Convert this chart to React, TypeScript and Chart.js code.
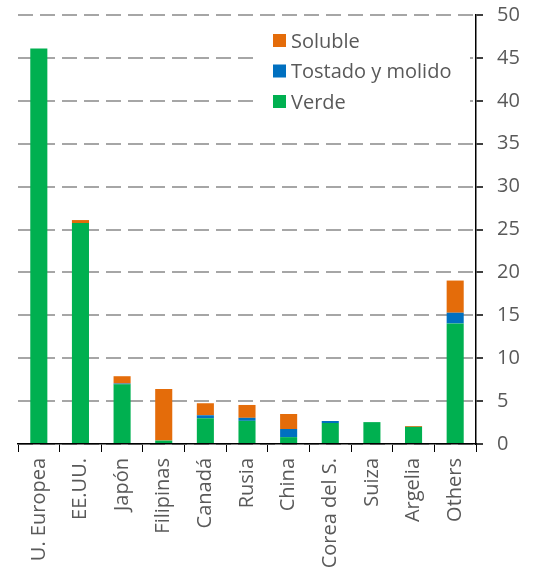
import React, { useEffect, useRef } from "react";
import { Chart, registerables } from "chart.js";

Chart.register(...registerables);

const categories = ["U. Europea", "EE.UU.", "Japón", "Filipinas", "Canadá", "Rusia", "China", "Corea del S.", "Suiza", "Argelia", "Others"];
const verde = [46.1, 25.75, 6.95, 0.4, 3.0, 2.7, 0.8, 2.45, 2.55, 2.0, 14.05];
const tostado = [0, 0, 0.1, 0, 0.35, 0.35, 0.95, 0.23, 0, 0, 1.25];
const soluble = [0, 0.35, 0.85, 6.0, 1.4, 1.5, 1.75, 0, 0, 0.1, 3.75];
const yTicks = [0, 5, 10, 15, 20, 25, 30, 35, 40, 45, 50];

const FONT = "'Open Sans', sans-serif";
const TEXT = "#595959";

const legendPlugin = {
  id: "insideLegend",
  afterDraw(chart: any) {
    const { ctx, chartArea } = chart;
    const x0 = chartArea.left + 240;
    const y0 = chartArea.top + 10;
    ctx.save();
    ctx.fillStyle = "#ffffff";
    ctx.fillRect(x0, y0, 212, 92);
    const items = [...chart.data.datasets].reverse();
    ctx.font = `20px ${FONT}`;
    ctx.textBaseline = "middle";
    ctx.textAlign = "left";
    items.forEach((ds: any, i: number) => {
      const cy = y0 + 16 + i * 30.5;
      ctx.fillStyle = ds.backgroundColor;
      ctx.fillRect(x0 + 15, cy - 7, 13, 13);
      ctx.fillStyle = TEXT;
      ctx.fillText(ds.label, x0 + 33, cy + 1);
    });
    ctx.restore();
  },
};

const zeroPad = (s: any) => {
  s.paddingTop = 0;
  s.paddingBottom = 0;
  s.paddingLeft = 0;
  s.paddingRight = 0;
};

export default function App() {
  const ref = useRef<HTMLCanvasElement>(null);
  useEffect(() => {
    document.body.style.margin = "0";
    const chart = new Chart(ref.current as HTMLCanvasElement, {
      type: "bar",
      data: {
        labels: categories,
        datasets: [
          { label: "Verde", data: verde, backgroundColor: "#00B050" },
          { label: "Tostado y molido", data: tostado, backgroundColor: "#0070C0" },
          { label: "Soluble", data: soluble, backgroundColor: "#E46C0A" },
        ],
      },
      options: {
        responsive: false,
        animation: false,
        layout: { autoPadding: false, padding: { left: 18, top: 15, right: 0, bottom: 0 } },
        datasets: { bar: { categoryPercentage: 1, barPercentage: 0.41 } },
        plugins: { legend: { display: false }, tooltip: { enabled: false } },
        scales: {
          x: {
            stacked: true,
            grid: { display: true, drawOnChartArea: false, drawTicks: true, tickLength: 8, color: "#000", offset: true },
            border: { display: true, color: "#000", width: 1.5 },
            ticks: { maxRotation: 90, minRotation: 90, padding: 6, color: TEXT, font: { family: FONT, size: 20 } },
            afterFit: (s: any) => { s.height = 130; zeroPad(s); },
          },
          y: {
            stacked: true,
            position: "right",
            min: 0,
            max: 50,
            afterBuildTicks: (s: any) => { s.ticks = yTicks.map((v) => ({ value: v })); },
            grid: { color: "#A6A6A6", lineWidth: 2, tickLength: 7, tickColor: "#000", tickWidth: 1.5, tickBorderDash: [] },
            border: { display: true, color: "#000", width: 1.5, dash: [15, 7] },
            ticks: { padding: 14, color: TEXT, font: { family: FONT, size: 20 } },
            afterFit: (s: any) => { s.width = 59; zeroPad(s); },
          },
        },
      },
      plugins: [legendPlugin],
    } as any);
    return () => chart.destroy();
  }, []);
  return (
    <div style={{ position: "absolute", left: 0, top: 0, width: 535, height: 574 }}>
      <canvas ref={ref} width={535} height={574} style={{ display: "block" }} />
    </div>
  );
}
